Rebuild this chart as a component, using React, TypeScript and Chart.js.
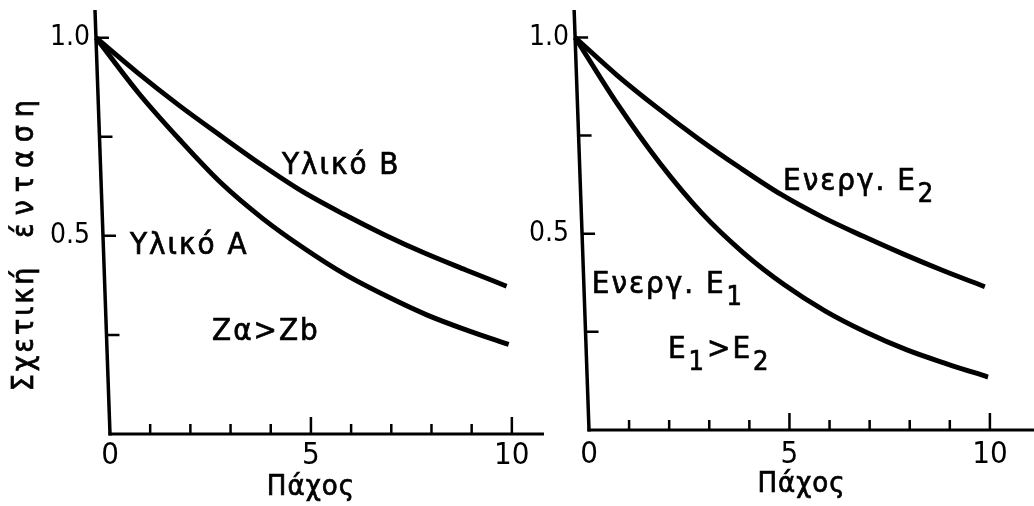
import React, { useEffect, useRef } from "react";
import { Chart, registerables } from "chart.js";

Chart.register(...registerables);

// Thickness (Πάχος) sample points, shared by every curve
const thickness = [0, 1, 2, 3, 4, 5, 6, 7, 8, 9, 10];

// Left panel: relative intensity behind two materials
const materialA = [1.0, 0.862, 0.742, 0.632, 0.543, 0.468, 0.402, 0.348, 0.3, 0.261, 0.226];
const materialB = [1.0, 0.912, 0.83, 0.754, 0.68, 0.612, 0.555, 0.503, 0.456, 0.414, 0.373];

// Right panel: relative intensity for two photon energies
const energyE1 = [1.0, 0.83, 0.68, 0.553, 0.452, 0.37, 0.303, 0.249, 0.204, 0.168, 0.135];
const energyE2 = [1.0, 0.905, 0.82, 0.741, 0.668, 0.6, 0.543, 0.494, 0.448, 0.405, 0.365];

// Axis ticks
const xMarks = [1, 2, 3, 4, 5, 6, 7, 8, 9, 10];
const xMajor = [5, 10];
const xLabels = [0, 5, 10];
const yMarks = [0.25, 0.5, 0.75, 1.0];
const yLabels = [0.5, 1.0];

// Texts
const xTitle = "Πάχος";
const yTitleWords = ["Σχετική", "ένταση"];

type Part = { text: string; sub?: boolean };
type Note = { x: number; y: number; parts: Part[] };

const notesLeft: Note[] = [
  { x: 4.28, y: 0.657, parts: [{ text: "Υλικό Β" }] },
  { x: 0.5, y: 0.455, parts: [{ text: "Υλικό Α" }] },
  { x: 2.54, y: 0.237, parts: [{ text: "Zα>Zb" }] },
];
const notesRight: Note[] = [
  { x: 4.84, y: 0.612, parts: [{ text: "Ενεργ. E" }, { text: "2", sub: true }] },
  { x: 0.07, y: 0.35, parts: [{ text: "Ενεργ. E" }, { text: "1", sub: true }] },
  {
    x: 1.97,
    y: 0.184,
    parts: [{ text: "E" }, { text: "1", sub: true }, { text: ">E" }, { text: "2", sub: true }],
  },
];

const FONT = '"DejaVu Sans Condensed", "DejaVu Sans", sans-serif';
const SKEW = 0.0354;
const INK = "#000";

function applySkew(chart: any) {
  const y0 = chart.scales.y.getPixelForValue(0);
  chart.ctx.transform(1, 0, SKEW, 1, -SKEW * y0, 0);
}

// Filled text with a thin outline so the lettering reads like pen strokes
function inkText(ctx: CanvasRenderingContext2D, text: string, x: number, y: number) {
  ctx.fillText(text, x, y);
  ctx.lineWidth = 0.7;
  ctx.strokeText(text, x, y);
}

const sketchPlugin = {
  id: "sketch",
  beforeDatasetsDraw(chart: any) {
    chart.ctx.save();
    applySkew(chart);
  },
  afterDatasetsDraw(chart: any) {
    chart.ctx.restore();
  },
  afterDraw(chart: any, _args: any, opts: any) {
    const { ctx, chartArea } = chart;
    const xs = chart.scales.x;
    const ys = chart.scales.y;
    const x0 = xs.getPixelForValue(0);
    const y0 = ys.getPixelForValue(0);

    ctx.save();
    ctx.strokeStyle = INK;
    ctx.fillStyle = INK;

    // axes, leaning like the hand-drawn frame
    ctx.save();
    applySkew(chart);
    ctx.lineWidth = 3.5;
    ctx.beginPath();
    ctx.moveTo(x0, chartArea.top);
    ctx.lineTo(x0, y0 + 1.5);
    ctx.stroke();
    ctx.lineWidth = 3;
    ctx.beginPath();
    ctx.moveTo(x0 - 1.5, y0);
    ctx.lineTo(chartArea.right, y0);
    ctx.stroke();
    ctx.lineWidth = 2.5;
    ctx.beginPath();
    for (const v of yMarks) {
      const py = ys.getPixelForValue(v);
      ctx.moveTo(x0, py);
      ctx.lineTo(x0 + 13, py);
    }
    ctx.stroke();
    ctx.restore();

    // x tick marks point up into the plot
    ctx.lineWidth = 2.5;
    ctx.beginPath();
    for (const v of xMarks) {
      const px = xs.getPixelForValue(v);
      const h = xMajor.includes(v) ? 17 : 10;
      ctx.moveTo(px, y0);
      ctx.lineTo(px, y0 - h);
    }
    ctx.stroke();

    // x title
    ctx.font = `29px ${FONT}`;
    (ctx as any).letterSpacing = "1px";
    ctx.textAlign = "center";
    ctx.textBaseline = "alphabetic";
    inkText(ctx, xTitle, xs.getPixelForValue(opts.xTitleAt), opts.xTitleBase);

    // y title, rotated
    if (opts.yTitle) {
      ctx.save();
      ctx.translate(25, 0);
      ctx.rotate(-Math.PI / 2);
      ctx.font = `30px ${FONT}`;
      ctx.textBaseline = "middle";
      (ctx as any).letterSpacing = "3px";
      inkText(ctx, yTitleWords[0], -328, 0);
      (ctx as any).letterSpacing = "8px";
      inkText(ctx, yTitleWords[1], -165, 0);
      ctx.restore();
    }

    // curve annotations
    (ctx as any).letterSpacing = "2px";
    ctx.textAlign = "left";
    ctx.textBaseline = "alphabetic";
    for (const n of opts.notes as Note[]) {
      let px = xs.getPixelForValue(n.x);
      const py = ys.getPixelForValue(n.y);
      for (const p of n.parts) {
        ctx.font = p.sub ? `27px ${FONT}` : `31px ${FONT}`;
        inkText(ctx, p.text, px, py + (p.sub ? 12 : 0));
        px += ctx.measureText(p.text).width + 1;
      }
    }
    (ctx as any).letterSpacing = "0px";
    ctx.restore();
  },
};

function curve(values: number[]) {
  return {
    data: thickness.map((t, i) => ({ x: t, y: values[i] })),
    borderColor: INK,
    borderWidth: 5,
    pointRadius: 0,
    fill: false,
    clip: false as any,
    cubicInterpolationMode: "monotone" as const,
  };
}

type PanelProps = {
  width: number;
  height: number;
  series: number[][];
  xMax: number;
  yMax: number;
  axisLeft: number;
  axisBottom: number;
  padRight: number;
  notes: Note[];
  yTitle: boolean;
  xTitleAt: number;
  xTitleBase: number;
  xLabelPad: number;
};

function Panel(props: PanelProps) {
  const ref = useRef<HTMLCanvasElement | null>(null);
  useEffect(() => {
    if (!ref.current) return;
    const chart = new Chart(ref.current, {
      type: "line",
      data: { datasets: props.series.map(curve) },
      plugins: [sketchPlugin],
      options: {
        responsive: false,
        animation: false,
        layout: { padding: { top: 10, right: props.padRight, left: 0, bottom: 0 } },
        plugins: {
          legend: { display: false },
          tooltip: { enabled: false },
          sketch: {
            notes: props.notes,
            yTitle: props.yTitle,
            xTitleAt: props.xTitleAt,
            xTitleBase: props.xTitleBase,
          },
        } as any,
        scales: {
          x: {
            type: "linear",
            min: 0,
            max: props.xMax,
            grid: { display: false, drawTicks: false },
            border: { display: false },
            afterBuildTicks: (s: any) => {
              s.ticks = xLabels.map((v) => ({ value: v }));
            },
            afterFit: (s: any) => {
              s.height = props.height - props.axisBottom;
              s.paddingLeft = 0;
              s.paddingRight = 0;
            },
            ticks: {
              autoSkip: false,
              maxRotation: 0,
              padding: props.xLabelPad,
              color: INK,
              font: { family: FONT, size: 31 },
              callback: (v: any) => String(v),
            },
          },
          y: {
            type: "linear",
            min: 0,
            max: props.yMax,
            grid: { display: false, drawTicks: false },
            border: { display: false },
            afterBuildTicks: (s: any) => {
              s.ticks = yLabels.map((v) => ({ value: v }));
            },
            afterFit: (s: any) => {
              s.width = props.axisLeft;
              s.paddingTop = 0;
              s.paddingBottom = 0;
            },
            ticks: {
              padding: 20,
              color: INK,
              font: { family: FONT, size: 28 },
              callback: (v: any) => Number(v).toFixed(1),
            },
          },
        },
      },
    });
    return () => chart.destroy();
  }, []);
  return <canvas ref={ref} width={props.width} height={props.height} />;
}

export default function App() {
  return (
    <div
      style={{
        position: "fixed",
        left: 0,
        top: 0,
        width: 1034,
        height: 506,
        background: "#fff",
        overflow: "hidden",
      }}
    >
      <div style={{ position: "absolute", left: 0, top: 0 }}>
        <Panel
          width={560}
          height={506}
          series={[materialB, materialA]}
          xMax={10.8}
          yMax={1.07}
          axisLeft={110}
          axisBottom={434}
          padRight={16}
          notes={notesLeft}
          yTitle={true}
          xTitleAt={5}
          xTitleBase={495}
          xLabelPad={3}
        />
      </div>
      <div style={{ position: "absolute", left: 520, top: 0 }}>
        <Panel
          width={514}
          height={506}
          series={[energyE2, energyE1]}
          xMax={11.1}
          yMax={1.07}
          axisLeft={69}
          axisBottom={430}
          padRight={0}
          notes={notesRight}
          yTitle={false}
          xTitleAt={5.3}
          xTitleBase={492}
          xLabelPad={6}
        />
      </div>
    </div>
  );
}
